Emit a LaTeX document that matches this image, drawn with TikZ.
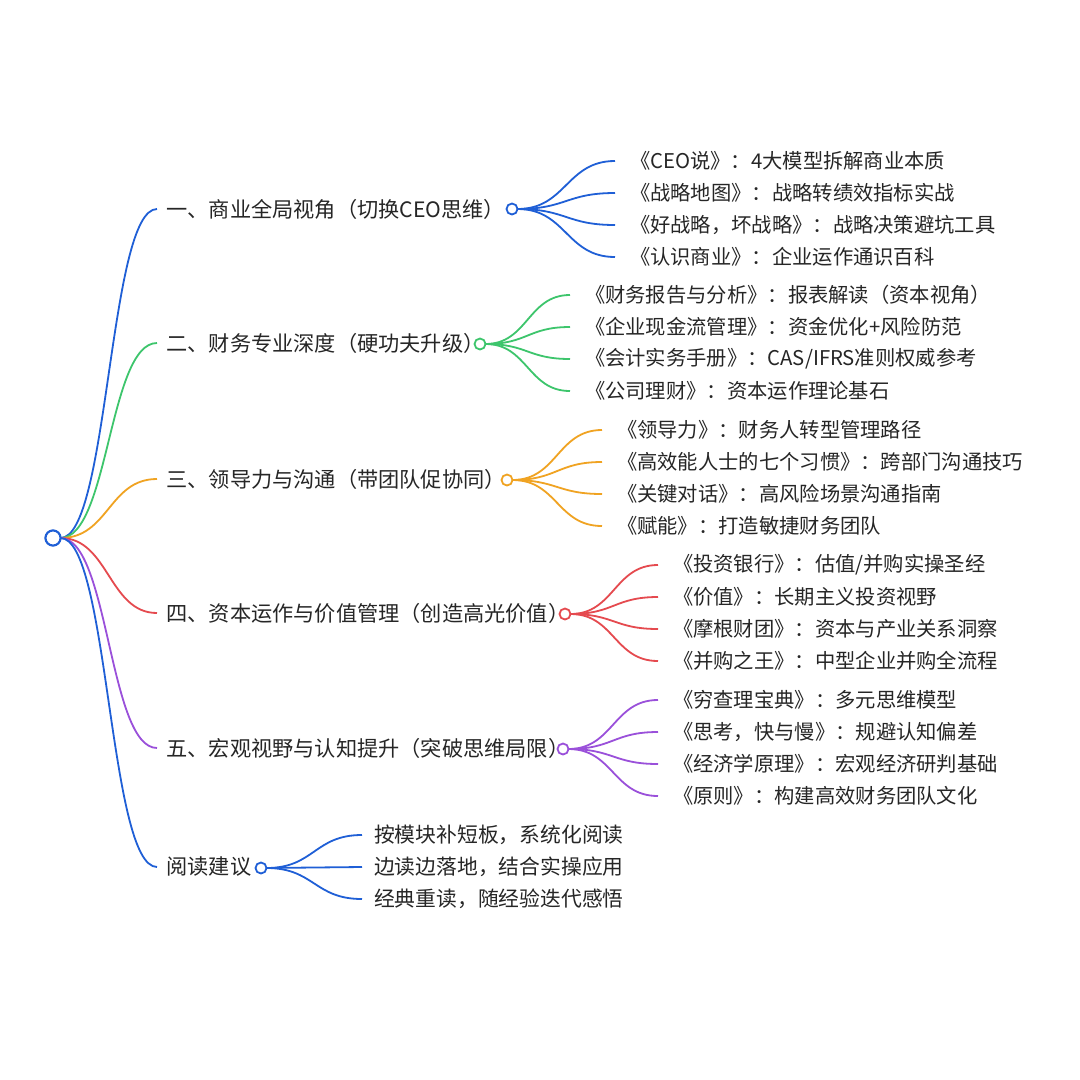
\documentclass[tikz,border=0pt]{standalone}
\usepackage{fontspec}
\newfontfamily\cjk{Noto Sans CJK SC}
\usetikzlibrary{calc}
\definecolor{cblue}{HTML}{1F5FD6}
\definecolor{cgreen}{HTML}{3DC56C}
\definecolor{corange}{HTML}{F0A322}
\definecolor{cred}{HTML}{E54A4F}
\definecolor{cpurple}{HTML}{9A50DA}
\definecolor{ctext}{HTML}{262626}
\tikzset{
  txt/.style={font=\cjk\fontsize{20.8}{24}\selectfont, text=ctext, anchor=west, outer sep=0pt, inner ysep=0pt},
  brtxt/.style={txt, font=\cjk\fontsize{21.2}{24}\selectfont, inner xsep=9.5pt},
  lftxt/.style={txt, font=\cjk\fontsize{20.3}{24}\selectfont, inner xsep=15pt},
  rdtxt/.style={txt, inner xsep=12pt},
  dot/.style={circle, draw=#1, fill=white, line width=1.8pt, minimum size=11pt, inner sep=0pt, outer sep=0pt},
  bigdot/.style={circle, draw=#1, fill=white, line width=2pt, minimum size=15pt, inner sep=0pt, outer sep=0pt},
  link/.style={draw=#1, line width=1.8pt}
}
\newcommand\mmlink[3]{\draw[link=#1] let \p1=(#2), \p2=(#3) in (\p1) .. controls ({(\x1+\x2)/2},\y1) and ({(\x1+\x2)/2},\y2) .. (\p2);}
\begin{document}
\begin{tikzpicture}[x=1pt,y=-1pt]
\useasboundingbox[fill=white] (0,0) rectangle (1080,1080);
% root
\node[bigdot=cblue] (root) at (53,538) {};
% branch texts
\node[brtxt] (t1) at (157,209) {一、商业全局视角（切换CEO思维）};
\node[brtxt] (t2) at (157,343) {二、财务专业深度（硬功夫升级）};
\node[brtxt] (t3) at (157,479) {三、领导力与沟通（带团队促协同）};
\node[brtxt] (t4) at (157,613) {四、资本运作与价值管理（创造高光价值）};
\node[brtxt] (t5) at (157,748) {五、宏观视野与认知提升（突破思维局限）};
\node[brtxt] (t6) at (157,867) {阅读建议};
% branch dots
\node[dot=cblue] (c1) at (512,209) {};
\node[dot=cgreen] (c2) at (480,344) {};
\node[dot=corange] (c3) at (507,480) {};
\node[dot=cred] (c4) at (565,614) {};
\node[dot=cpurple] (c5) at (563,749) {};
\node[dot=cblue] (c6) at (261,868) {};
% leaves 1
\node[lftxt] (l11) at (615,161) {《CEO说》：4大模型拆解商业本质};
\node[lftxt] (l12) at (615,193) {《战略地图》：战略转绩效指标实战};
\node[lftxt] (l13) at (615,225) {《好战略，坏战略》：战略决策避坑工具};
\node[lftxt] (l14) at (615,257) {《认识商业》：企业运作通识百科};
% leaves 2
\node[lftxt] (l21) at (570,295) {《财务报告与分析》：报表解读（资本视角）};
\node[lftxt] (l22) at (570,327) {《企业现金流管理》：资金优化+风险防范};
\node[lftxt] (l23) at (570,359) {《会计实务手册》：CAS/IFRS准则权威参考};
\node[lftxt] (l24) at (570,391) {《公司理财》：资本运作理论基石};
% leaves 3
\node[lftxt] (l31) at (602,430) {《领导力》：财务人转型管理路径};
\node[lftxt] (l32) at (602,462) {《高效能人士的七个习惯》：跨部门沟通技巧};
\node[lftxt] (l33) at (602,494) {《关键对话》：高风险场景沟通指南};
\node[lftxt] (l34) at (602,526) {《赋能》：打造敏捷财务团队};
% leaves 4
\node[lftxt] (l41) at (658,565) {《投资银行》：估值/并购实操圣经};
\node[lftxt] (l42) at (658,597) {《价值》：长期主义投资视野};
\node[lftxt] (l43) at (658,629) {《摩根财团》：资本与产业关系洞察};
\node[lftxt] (l44) at (658,661) {《并购之王》：中型企业并购全流程};
% leaves 5
\node[lftxt] (l51) at (658,700) {《穷查理宝典》：多元思维模型};
\node[lftxt] (l52) at (658,732) {《思考，快与慢》：规避认知偏差};
\node[lftxt] (l53) at (658,764) {《经济学原理》：宏观经济研判基础};
\node[lftxt] (l54) at (658,796) {《原则》：构建高效财务团队文化};
% leaves 6
\node[rdtxt] (l61) at (362,835) {按模块补短板，系统化阅读};
\node[rdtxt] (l62) at (362,867) {边读边落地，结合实操应用};
\node[rdtxt] (l63) at (362,899) {经典重读，随经验迭代感悟};
% root links
\mmlink{cblue}{root.east}{t1.west}
\mmlink{cgreen}{root.east}{t2.west}
\mmlink{corange}{root.east}{t3.west}
\mmlink{cred}{root.east}{t4.west}
\mmlink{cpurple}{root.east}{t5.west}
\mmlink{cblue}{root.east}{t6.west}
% leaf links
\foreach \i in {1,...,4}{\mmlink{cblue}{c1.east}{l1\i.west}}
\foreach \i in {1,...,4}{\mmlink{cgreen}{c2.east}{l2\i.west}}
\foreach \i in {1,...,4}{\mmlink{corange}{c3.east}{l3\i.west}}
\foreach \i in {1,...,4}{\mmlink{cred}{c4.east}{l4\i.west}}
\foreach \i in {1,...,4}{\mmlink{cpurple}{c5.east}{l5\i.west}}
\foreach \i in {1,...,3}{\mmlink{cblue}{c6.east}{l6\i.west}}
% redraw root dot on top
\node[bigdot=cblue] at (root) {};
\end{tikzpicture}
\end{document}
